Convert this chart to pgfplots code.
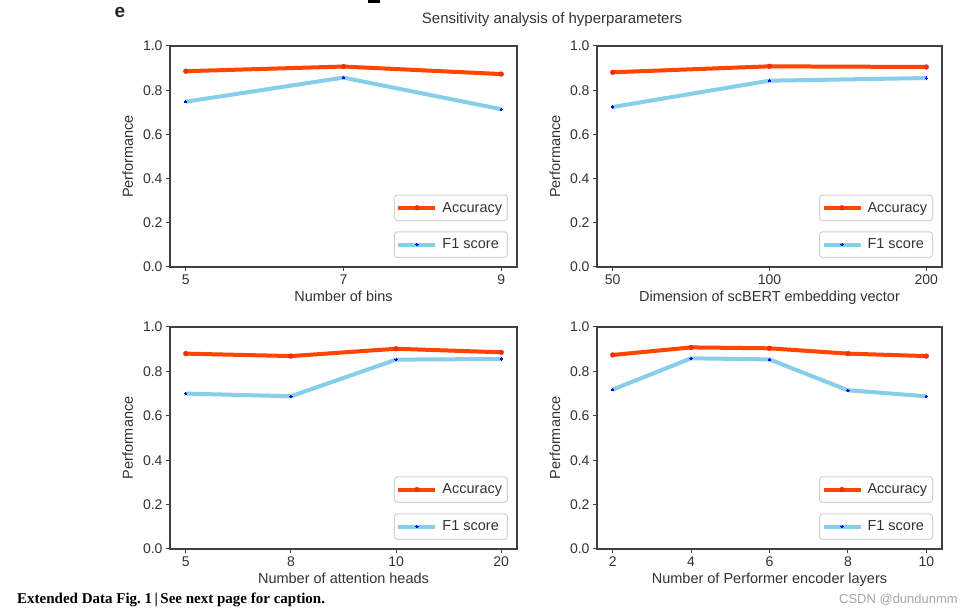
\documentclass[border=0pt]{standalone}
\usepackage{fontspec}
\setmainfont{Liberation Sans}
\newfontfamily\capfont{Liberation Serif}
\usepackage{pgfplots}
\pgfplotsset{compat=1.18}

\definecolor{accred}{HTML}{FF4500}
\definecolor{accdot}{HTML}{F0300A}
\definecolor{f1blue}{HTML}{87CEEB}
\definecolor{axgray}{HTML}{404040}
\definecolor{txtgray}{HTML}{333333}

\newcommand{\tickfont}{\fontsize{14}{16}\selectfont}
\newcommand{\lblfont}{\fontsize{14.5}{16}\selectfont}
\newcommand{\legtext}[1]{\makebox[64pt][l]{\hspace{3pt}#1}}

\pgfplotsset{
  panel/.style={
    scale only axis, width=347pt, height=221pt, anchor=south west,
    ymin=0, ymax=1,
    ytick={0,0.2,0.4,0.6,0.8,1.0},
    yticklabels={0.0,0.2,0.4,0.6,0.8,1.0},
    axis line style={axgray, line width=1.2pt},
    tick style={axgray, line width=1pt},
    tick align=outside, major tick length=4pt,
    tick pos=left,
    tick label style={txtgray, font=\tickfont},
    label style={txtgray, font=\lblfont},
    ylabel={Performance},
    ylabel style={xshift=0pt, yshift=3pt},
    /pgf/number format/assume math mode=true,
    legend cell align=left,
    legend style={draw=black!18, line width=1pt, rounded corners=3pt, fill=white,
      anchor=south east, font=\lblfont, text=txtgray,
      inner xsep=2pt, inner ysep=5pt},
  },
  accline/.style={color=accred, line width=4pt, mark=*, mark size=2.4pt,
    mark options={fill=accdot, draw=accdot, line width=0.4pt},
    legend image code/.code={\draw[mark repeat=2,mark phase=2,##1] plot coordinates {(0pt,0pt) (18.5pt,0pt) (37pt,0pt)};}},
  f1line/.style={color=f1blue, line width=4pt, mark=*, mark size=1.1pt,
    mark options={fill=blue, draw=blue, line width=0pt},
    legend image code/.code={\draw[mark repeat=2,mark phase=2,##1] plot coordinates {(0pt,0pt) (18.5pt,0pt) (37pt,0pt)};}},
  acclegend/.style={legend style={at={(0.974,0.208)}}},
  f1legend/.style={legend style={at={(0.974,0.041)}}},
}

\begin{document}
\begin{tikzpicture}
\fill[white] (0pt,0pt) rectangle (972pt,615pt);
\path[use as bounding box] (0pt,0pt) rectangle (972pt,615pt);

% heading text
\node[font=\fontsize{19}{20}\selectfont\bfseries, text=black!85] at (120pt,603pt) {e};
\fill[black] (368pt,612pt) rectangle (380pt,615pt);
\node[font=\fontsize{15}{16}\selectfont, text=txtgray] at (552pt,595pt) {Sensitivity analysis of hyperparameters};

% (a) number of bins
\begin{axis}[panel, at={(170pt,348pt)}, xmin=4.8, xmax=9.2, xtick={5,7,9},
  xlabel={Number of bins}, acclegend]
\addplot[accline] coordinates {(5,0.886) (7,0.907) (9,0.873)};
\addlegendentry{\legtext{Accuracy}}
\addplot[f1line, forget plot] coordinates {(5,0.748) (7,0.857) (9,0.714)};
\end{axis}
\begin{axis}[panel, at={(170pt,348pt)}, hide axis, xmin=0, xmax=1, f1legend]
\addlegendimage{f1line}
\addlegendentry{\legtext{F1 score}}
\end{axis}

% (b) embedding dimension
\begin{axis}[panel, at={(597pt,348pt)}, width=345pt, xmin=-0.1, xmax=2.1,
  xtick={0,1,2}, xticklabels={50,100,200},
  xlabel={Dimension of scBERT embedding vector}, acclegend]
\addplot[accline] coordinates {(0,0.881) (1,0.908) (2,0.905)};
\addlegendentry{\legtext{Accuracy}}
\addplot[f1line, forget plot] coordinates {(0,0.724) (1,0.843) (2,0.855)};
\end{axis}
\begin{axis}[panel, at={(597pt,348pt)}, width=345pt, hide axis, xmin=0, xmax=1, f1legend]
\addlegendimage{f1line}
\addlegendentry{\legtext{F1 score}}
\end{axis}

% (c) attention heads
\begin{axis}[panel, at={(170pt,66pt)}, height=222pt, xmin=-0.15, xmax=3.15,
  xtick={0,1,2,3}, xticklabels={5,8,10,20},
  xlabel={Number of attention heads}, acclegend]
\addplot[accline] coordinates {(0,0.880) (1,0.869) (2,0.902) (3,0.886)};
\addlegendentry{\legtext{Accuracy}}
\addplot[f1line, forget plot] coordinates {(0,0.700) (1,0.688) (2,0.853) (3,0.856)};
\end{axis}
\begin{axis}[panel, at={(170pt,66pt)}, height=222pt, hide axis, xmin=0, xmax=1, f1legend]
\addlegendimage{f1line}
\addlegendentry{\legtext{F1 score}}
\end{axis}

% (d) encoder layers
\begin{axis}[panel, at={(597pt,66pt)}, width=345pt, height=222pt, xmin=1.6, xmax=10.4,
  xtick={2,4,6,8,10},
  xlabel={Number of Performer encoder layers}, acclegend]
\addplot[accline] coordinates {(2,0.874) (4,0.908) (6,0.904) (8,0.880) (10,0.869)};
\addlegendentry{\legtext{Accuracy}}
\addplot[f1line, forget plot] coordinates {(2,0.718) (4,0.859) (6,0.854) (8,0.715) (10,0.688)};
\end{axis}
\begin{axis}[panel, at={(597pt,66pt)}, width=345pt, height=222pt, hide axis, xmin=0, xmax=1, f1legend]
\addlegendimage{f1line}
\addlegendentry{\legtext{F1 score}}
\end{axis}

% caption and watermark
\node[anchor=west, font=\capfont\bfseries\fontsize{15}{16}\selectfont, inner sep=0pt] at (17pt,15pt)
  {Extended Data Fig.~1\,|\,See next page for caption.};
\node[anchor=east, font=\fontsize{13}{14}\selectfont, text=black!35, inner sep=0pt] at (958pt,15pt)
  {CSDN @dundunmm};
\end{tikzpicture}
\end{document}
